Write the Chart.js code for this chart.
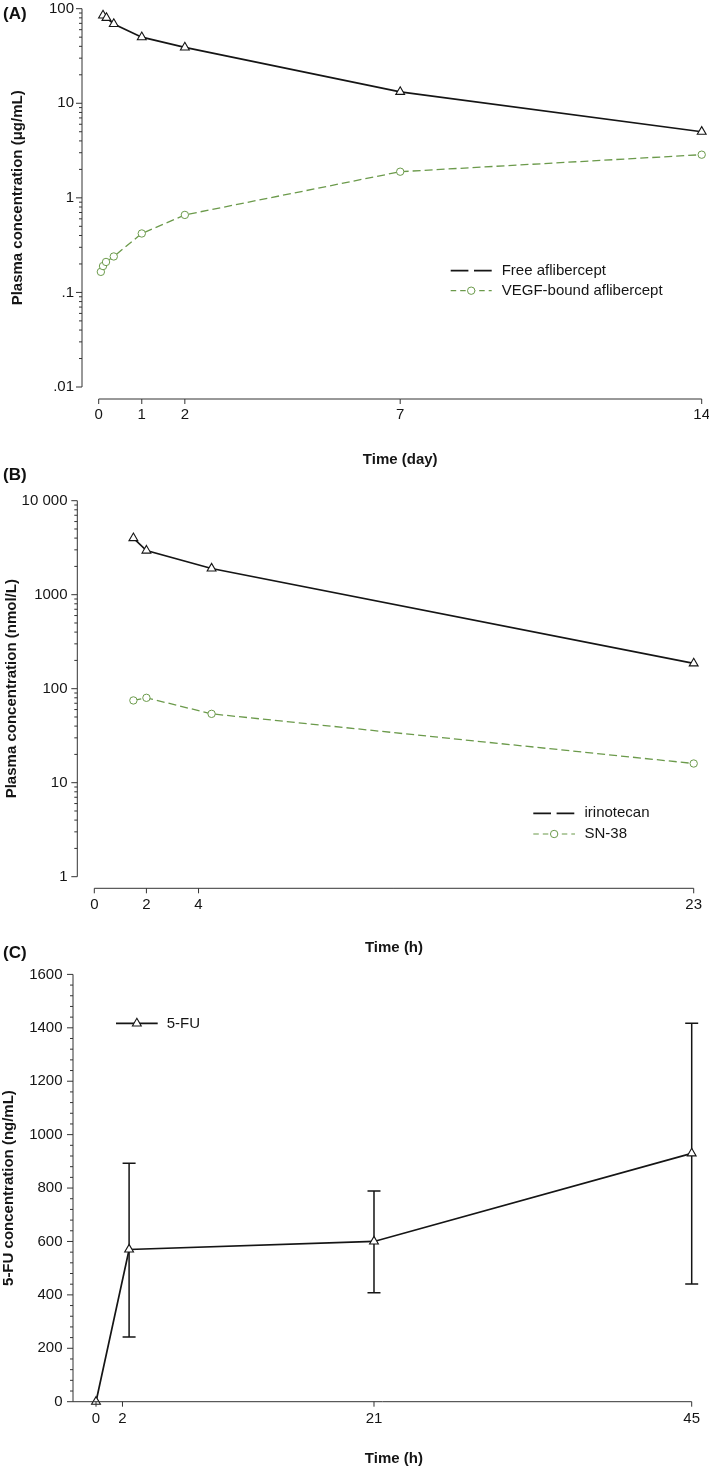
<!DOCTYPE html>
<html><head><meta charset="utf-8">
<script src="https://cdn.jsdelivr.net/npm/chart.js@4/dist/chart.umd.min.js"></script>
<style>
html,body{margin:0;padding:0;background:#fff;}
#wrap{position:relative;width:709px;height:1470px;overflow:hidden;background:#fff;}
canvas{position:absolute;left:0;}
.pl{position:absolute;left:3px;font:bold 17px "Liberation Sans",Arial,Helvetica,sans-serif;color:#111;line-height:20px;}
</style></head><body>
<div id="wrap">
<canvas id="cA" width="709" height="470" style="top:0px"></canvas>
<canvas id="cB" width="709" height="490" style="top:470px"></canvas>
<canvas id="cC" width="709" height="510" style="top:960px"></canvas>
<div class="pl" style="top:4px">(A)</div>
<div class="pl" style="top:465px">(B)</div>
<div class="pl" style="top:943px">(C)</div>
</div>
<script>
// ---------- data ----------
// Panel A: aflibercept (days)
const dayFree = [0.1, 0.18, 0.35, 1, 2, 7, 14];
const conFree = [85, 80, 69, 50, 39, 13.2, 5];
const dayVegf = [0.05, 0.1, 0.17, 0.35, 1, 2, 7, 14];
const conVegf = [0.165, 0.19, 0.21, 0.24, 0.42, 0.66, 1.89, 2.86];
const xTicksA = [0, 1, 2, 7, 14];
const yTicksA = [100, 10, 1, 0.1, 0.01];
const yLabelsA = ['100', '10', '1', '.1', '.01'];

// Panel B: irinotecan / SN-38 (hours)
const hIri = [1.5, 2, 4.5, 23];
const conIri = [4000, 2950, 1900, 186];
const hSn38 = [1.5, 2, 4.5, 23];
const conSn38 = [75, 80, 54, 16];
const xTicksB = [0, 2, 4, 23];
const yTicksB = [10000, 1000, 100, 10, 1];
const yLabelsB = ['10 000', '1000', '100', '10', '1'];

// Panel C: 5-FU (hours)
const hFu = [0, 2.5, 21, 45];
const meanFu = [0, 570, 600, 930];
const lowFu = [null, 242, 408, 441];
const highFu = [null, 893, 789, 1417];
const xTicksC = [0, 2, 21, 45];
const yTicksC = [0, 200, 400, 600, 800, 1000, 1200, 1400, 1600];

// ---------- style ----------
const FONT = '"Liberation Sans", Arial, Helvetica, sans-serif';
const INK = '#151515';
const AXIS = '#333333';
const GREEN = '#6b9a4b';
const TRI_R = 5.1;
const CIR_R = 3.7;

function pts(xs, ys) { return xs.map((x, i) => ({x: x, y: ys[i]})); }

const stataAxes = {
  id: 'stataAxes',
  beforeDatasetsDraw(chart, args, o) {
    if (!o.errors) return;
    const ctx = chart.ctx, xs = chart.scales.x, ys = chart.scales.y;
    ctx.save();
    ctx.strokeStyle = INK; ctx.lineWidth = 1.5; ctx.setLineDash([]);
    o.errors.x.forEach((xv, i) => {
      const lo = o.errors.low[i], hi = o.errors.high[i];
      if (lo == null || hi == null) return;
      const px = xs.getPixelForValue(xv);
      const pl = ys.getPixelForValue(lo), ph = ys.getPixelForValue(hi);
      ctx.beginPath();
      ctx.moveTo(px, pl); ctx.lineTo(px, ph);
      ctx.moveTo(px - o.errors.cap, pl); ctx.lineTo(px + o.errors.cap, pl);
      ctx.moveTo(px - o.errors.cap, ph); ctx.lineTo(px + o.errors.cap, ph);
      ctx.stroke();
    });
    ctx.restore();
  },
  afterDatasetsDraw(chart, args, o) {
    const ctx = chart.ctx, xs = chart.scales.x, ys = chart.scales.y;
    const area = chart.chartArea;
    ctx.save();
    ctx.strokeStyle = AXIS; ctx.lineWidth = 1; ctx.setLineDash([]);
    // y axis
    const yTop = ys.getPixelForValue(ys.max), yBot = ys.getPixelForValue(ys.min);
    const ax = o.yAxisX;
    ctx.beginPath();
    ctx.moveTo(ax, yTop); ctx.lineTo(ax, yBot);
    o.yMajor.forEach(v => { const p = ys.getPixelForValue(v); ctx.moveTo(ax - 6, p); ctx.lineTo(ax, p); });
    let minors = [];
    if (o.minor === 'log') {
      const k0 = Math.floor(Math.log10(ys.min)), k1 = Math.ceil(Math.log10(ys.max));
      for (let k = k0; k < k1; k++) for (let m = 2; m <= 9; m++) {
        const v = m * Math.pow(10, k);
        if (v > ys.min && v < ys.max) minors.push(v);
      }
    } else {
      for (let v = ys.min; v <= ys.max; v += o.minor) if (v % 200 !== 0) minors.push(v);
    }
    minors.forEach(v => { const p = ys.getPixelForValue(v); ctx.moveTo(ax - 3, p); ctx.lineTo(ax, p); });
    // x axis
    const ay = area.bottom + o.xAxisGap;
    const x0 = o.xLineFrom === 'yaxis' ? ax : xs.getPixelForValue(xs.min);
    const x1 = xs.getPixelForValue(xs.max);
    ctx.moveTo(x0, ay); ctx.lineTo(x1, ay);
    o.xMajor.forEach(v => { const p = xs.getPixelForValue(v); ctx.moveTo(p, ay); ctx.lineTo(p, ay + 5); });
    ctx.stroke();
    // legend
    const L = o.legend;
    ctx.font = '15px ' + FONT;
    ctx.textBaseline = 'middle'; ctx.textAlign = 'left';
    L.items.forEach(it => {
      ctx.strokeStyle = it.color; ctx.lineWidth = it.width;
      ctx.setLineDash(it.dash);
      ctx.beginPath(); ctx.moveTo(L.x1, it.y); ctx.lineTo(L.x2, it.y); ctx.stroke();
      ctx.setLineDash([]);
      if (it.point) {
        ctx.fillStyle = '#fff'; ctx.strokeStyle = it.color; ctx.lineWidth = it.point.bw;
        Chart.helpers.drawPoint(ctx, {pointStyle: it.point.style, radius: it.point.r, rotation: 0, borderWidth: it.point.bw}, (L.x1 + L.x2) / 2, it.y);
      }
      ctx.fillStyle = INK;
      ctx.fillText(it.text, L.textX, it.y);
    });
    ctx.restore();
  }
};

function xScale(max, ticks, title, height, pad, titlePadBottom) {
  return {
    type: 'linear', position: 'bottom', min: 0, max: max,
    grid: {display: false, drawTicks: false, tickLength: 0},
    border: {display: false},
    ticks: {autoSkip: false, maxRotation: 0, padding: pad, color: INK,
            font: {family: FONT, size: 15}, callback: v => String(v)},
    afterBuildTicks: s => { s.ticks = ticks.map(v => ({value: v})); },
    afterFit: s => { s.height = height; s.paddingLeft = 0; s.paddingRight = 0; },
    title: {display: true, text: title, color: INK, font: {family: FONT, size: 15, weight: 'bold'},
            padding: {top: 0, bottom: titlePadBottom}}
  };
}
function yScale(type, min, max, ticks, labels, title, width, pad, titlePadTop) {
  return {
    type: type, position: 'left', min: min, max: max,
    grid: {display: false, drawTicks: false, tickLength: 0},
    border: {display: false},
    ticks: {autoSkip: false, padding: pad, color: INK, font: {family: FONT, size: 15},
            callback: (v, i) => labels[i]},
    afterBuildTicks: s => { s.ticks = ticks.map(v => ({value: v})); },
    afterFit: s => { s.width = width; s.paddingTop = 0; s.paddingBottom = 0; },
    title: {display: true, text: title, color: INK, font: {family: FONT, size: 15, weight: 'bold'},
            padding: {top: titlePadTop, bottom: 0}}
  };
}
const basePlugins = {legend: {display: false}, tooltip: {enabled: false}, title: {display: false}};

function blackSet(label, data) {
  return {label: label, data: data, borderColor: INK, borderWidth: 1.7,
    pointStyle: 'triangle', pointRadius: TRI_R, pointBorderColor: INK, pointBackgroundColor: '#fff',
    pointBorderWidth: 1.1, clip: false, tension: 0};
}
function greenSet(label, data) {
  return {label: label, data: data, borderColor: GREEN, borderWidth: 1.3,
    borderDash: [8, 4], pointStyle: 'circle', pointRadius: CIR_R, pointBorderColor: GREEN,
    pointBackgroundColor: '#fff', pointBorderWidth: 1, clip: false, tension: 0};
}

// ---------- Panel A ----------
new Chart(document.getElementById('cA'), {
  type: 'line',
  data: {datasets: [
    blackSet('Free aflibercept', pts(dayFree, conFree)),
    greenSet('VEGF-bound aflibercept', pts(dayVegf, conVegf))
  ]},
  options: {
    responsive: false, animation: false, devicePixelRatio: 1,
    layout: {padding: {left: 0, top: 8.7, right: 7.3, bottom: 0}},
    scales: {
      x: xScale(14, xTicksA, 'Time (day)', 83, 19, 1),
      y: yScale('logarithmic', 0.01, 100, yTicksA, yLabelsA, 'Plasma concentration (μg/mL)', 98.7, 24.7, 9.3)
    },
    plugins: Object.assign({}, basePlugins, {stataAxes: {
      yAxisX: 82, xAxisGap: 12, xLineFrom: 'zero', minor: 'log', yMajor: yTicksA, xMajor: xTicksA,
      legend: {x1: 450.7, x2: 491.7, textX: 501.7, items: [
        {y: 270.7, text: 'Free aflibercept', color: INK, width: 1.7, dash: [17.7, 5.6], point: null},
        {y: 290.7, text: 'VEGF-bound aflibercept', color: GREEN, width: 1.2, dash: [5.5, 4],
         point: {style: 'circle', r: CIR_R, bw: 1}}
      ]}
    }})
  },
  plugins: [stataAxes]
});

// ---------- Panel B ----------
new Chart(document.getElementById('cB'), {
  type: 'line',
  data: {datasets: [
    blackSet('irinotecan', pts(hIri, conIri)),
    greenSet('SN-38', pts(hSn38, conSn38))
  ]},
  options: {
    responsive: false, animation: false, devicePixelRatio: 1,
    layout: {padding: {left: 0, top: 30.7, right: 15.3, bottom: 0}},
    scales: {
      x: xScale(23, xTicksB, 'Time (h)', 83.3, 19.3, 2.7),
      y: yScale('logarithmic', 1, 10000, yTicksB, yLabelsB, 'Plasma concentration (nmol/L)', 94.3, 26.8, 3)
    },
    plugins: Object.assign({}, basePlugins, {stataAxes: {
      yAxisX: 77.3, xAxisGap: 11.6, xLineFrom: 'zero', minor: 'log', yMajor: yTicksB, xMajor: xTicksB,
      legend: {x1: 533.3, x2: 575, textX: 584.5, items: [
        {y: 343.3, text: 'irinotecan', color: INK, width: 1.7, dash: [17.7, 5.6], point: null},
        {y: 364, text: 'SN-38', color: GREEN, width: 1.2, dash: [5.5, 4],
         point: {style: 'circle', r: CIR_R, bw: 1}}
      ]}
    }})
  },
  plugins: [stataAxes]
});

// ---------- Panel C ----------
new Chart(document.getElementById('cC'), {
  type: 'line',
  data: {datasets: [
    blackSet('5-FU', pts(hFu, meanFu))
  ]},
  options: {
    responsive: false, animation: false, devicePixelRatio: 1,
    layout: {padding: {left: 0, top: 14.4, right: 17.3, bottom: 0}},
    scales: {
      x: xScale(45, xTicksC, 'Time (h)', 68.3, 8.3, 2),
      y: yScale('linear', 0, 1600, yTicksC, yTicksC.map(String), '5-FU concentration (ng/mL)', 96, 33.5, 0.2)
    },
    plugins: Object.assign({}, basePlugins, {stataAxes: {
      yAxisX: 73, xAxisGap: 0, xLineFrom: 'yaxis', minor: 40, yMajor: yTicksC, xMajor: xTicksC,
      errors: {x: hFu, low: lowFu, high: highFu, cap: 6.5},
      legend: {x1: 116, x2: 157.7, textX: 166.7, items: [
        {y: 63.4, text: '5-FU', color: INK, width: 1.7, dash: [], point: {style: 'triangle', r: TRI_R, bw: 1.1}}
      ]}
    }})
  },
  plugins: [stataAxes]
});
</script>
</body></html>
